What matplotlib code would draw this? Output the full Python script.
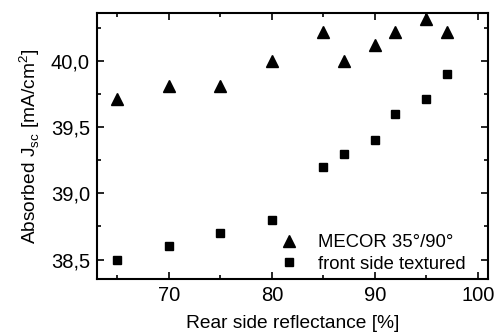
import matplotlib
matplotlib.use("Agg")
import matplotlib.pyplot as plt
from matplotlib.ticker import MultipleLocator, FuncFormatter

plt.rcParams['font.family'] = ['Liberation Sans', 'DejaVu Sans']

# reflectance [%]
refl = [65, 70, 75, 80, 85, 87, 90, 92, 95, 97]
# absorbed Jsc [mA/cm2]
mecor = [39.71, 39.81, 39.81, 40.0, 40.22, 40.0, 40.12, 40.22, 40.32, 40.22]
textured = [38.5, 38.6, 38.7, 38.8, 39.2, 39.3, 39.4, 39.6, 39.71, 39.9]

fig = plt.figure(figsize=(4.94, 3.33), dpi=100)
ax = fig.add_axes([0.196, 0.161, 0.792, 0.799])

ax.plot(refl, mecor, linestyle='none', marker='^', color='black',
        markersize=9, label='MECOR 35°/90°')
ax.plot(refl, textured, linestyle='none', marker='s', markerfacecolor='black',
        markeredgecolor='black', markersize=6, label='front side textured')

ax.set_xlim(63, 101)
ax.set_ylim(38.35, 40.36)
ax.xaxis.set_major_locator(MultipleLocator(10))
ax.xaxis.set_minor_locator(MultipleLocator(5))
ax.yaxis.set_major_locator(MultipleLocator(0.5))
ax.yaxis.set_minor_locator(MultipleLocator(0.25))
ax.yaxis.set_major_formatter(FuncFormatter(lambda v, p: ('%.1f' % v).replace('.', ',')))

ax.tick_params(which='both', direction='in', top=True, right=True, width=1.2)
ax.tick_params(which='major', length=5, labelsize=14.5, pad=5)
ax.tick_params(which='minor', length=3)
for s in ax.spines.values():
    s.set_linewidth(1.5)

ax.set_xlabel('Rear side reflectance [%]', fontsize=13.8, labelpad=7)
ax.set_ylabel('Absorbed J$_{\\mathregular{sc}}$ [mA/cm$^{\\mathregular{2}}$]', fontsize=13.8, labelpad=6)

ax.legend(loc='lower right', bbox_to_anchor=(0.965, -0.01), frameon=False, fontsize=13.3,
          handletextpad=0.8, borderaxespad=0.1, labelspacing=0.25, handlelength=1.5)

fig.savefig('out.png', dpi=100)
